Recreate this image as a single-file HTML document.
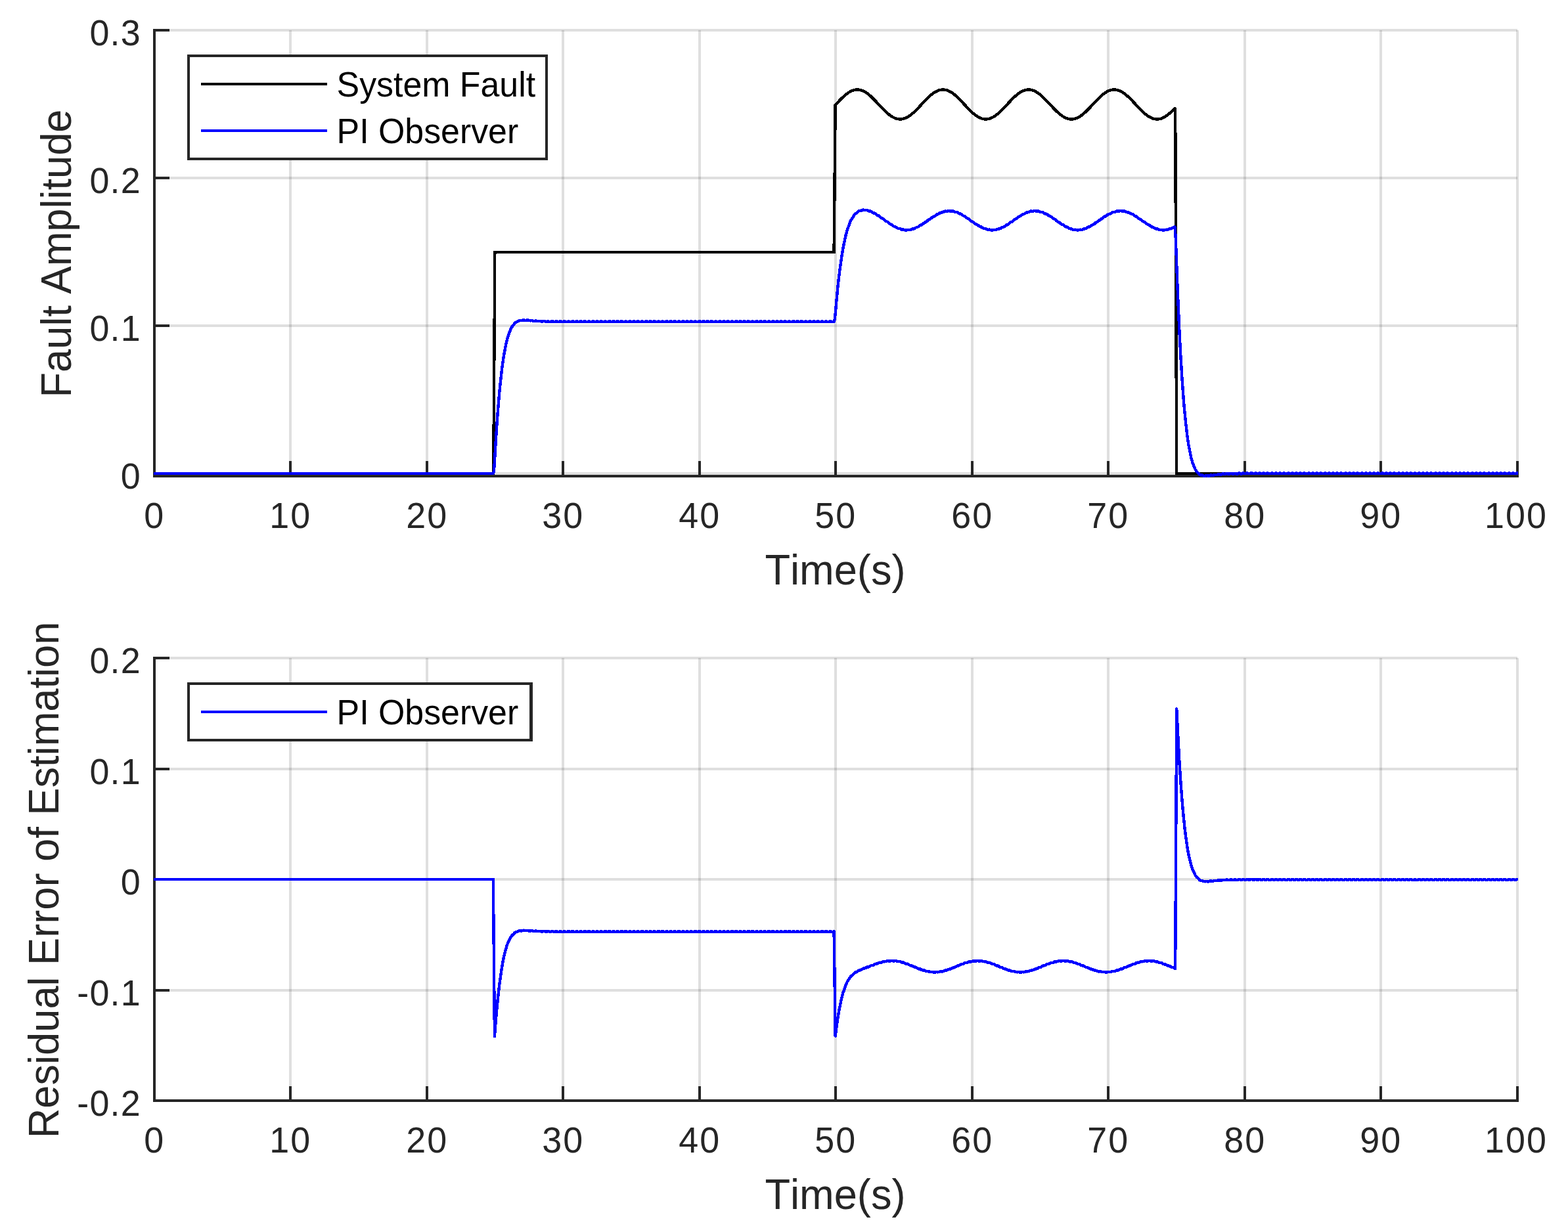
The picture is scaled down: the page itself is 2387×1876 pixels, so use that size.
<!DOCTYPE html>
<html lang="en">
<head>
<meta charset="utf-8">
<title>PI Observer fault estimation</title>
<style>
html,body{margin:0;padding:0;background:#fff;}
body{width:2387px;height:1876px;}
svg{display:block;}
text{font-family:"Liberation Sans", sans-serif;fill:#262626;font-kerning:none;}
.tk{font-size:55.5px;}
.tx{letter-spacing:2.12px;}
.ty{letter-spacing:1.3px;}
.lb{font-size:63.2px;}
.lg{font-size:51.85px;fill:#000;}
</style>
</head>
<body>
<svg width="2387" height="1876" viewBox="0 0 2387 1876" role="img" aria-label="Fault estimation by PI observer and residual error of estimation">
<rect x="0" y="0" width="2387" height="1876" fill="#fff"/>
<g id="top">
<g fill="#262626" fill-opacity="0.15" shape-rendering="crispEdges">
<rect x="440" y="46" width="4" height="656"/>
<rect x="648" y="46" width="4" height="656"/>
<rect x="855" y="46" width="4" height="656"/>
<rect x="1063" y="46" width="4" height="656"/>
<rect x="1270" y="46" width="4" height="656"/>
<rect x="1478" y="46" width="4" height="656"/>
<rect x="1685" y="46" width="4" height="656"/>
<rect x="1893" y="46" width="4" height="656"/>
<rect x="2100" y="46" width="4" height="656"/>
<rect x="2308" y="46" width="4" height="656"/>
<rect x="258" y="44" width="2052" height="4"/>
<rect x="258" y="269" width="2052" height="4"/>
<rect x="258" y="494" width="2052" height="4"/>
<rect x="258" y="719" width="2052" height="4"/>
</g>
<g fill="#262626" shape-rendering="crispEdges">
<rect x="233" y="44" width="4" height="683"/>
<rect x="233" y="723" width="2079" height="4"/>
<rect x="440" y="702" width="4" height="25"/>
<rect x="648" y="702" width="4" height="25"/>
<rect x="855" y="702" width="4" height="25"/>
<rect x="1063" y="702" width="4" height="25"/>
<rect x="1270" y="702" width="4" height="25"/>
<rect x="1478" y="702" width="4" height="25"/>
<rect x="1685" y="702" width="4" height="25"/>
<rect x="1893" y="702" width="4" height="25"/>
<rect x="2100" y="702" width="4" height="25"/>
<rect x="2308" y="702" width="4" height="25"/>
<rect x="233" y="44" width="25" height="4"/>
<rect x="233" y="269" width="25" height="4"/>
<rect x="233" y="494" width="25" height="4"/>
<rect x="233" y="719" width="25" height="4"/>
</g>
<g class="tk tx" text-anchor="middle">
<text transform="translate(235.3,804.2) scale(0.97,1)">0</text>
<text transform="translate(442.3,804.2) scale(0.97,1)">10</text>
<text transform="translate(650.3,804.2) scale(0.97,1)">20</text>
<text transform="translate(857.3,804.2) scale(0.97,1)">30</text>
<text transform="translate(1065.3,804.2) scale(0.97,1)">40</text>
<text transform="translate(1272.3,804.2) scale(0.97,1)">50</text>
<text transform="translate(1480.3,804.2) scale(0.97,1)">60</text>
<text transform="translate(1687.3,804.2) scale(0.97,1)">70</text>
<text transform="translate(1895.3,804.2) scale(0.97,1)">80</text>
<text transform="translate(2102.3,804.2) scale(0.97,1)">90</text>
<text transform="translate(2308,804.2) scale(0.97,1)">100</text>
</g>
<g class="tk ty" text-anchor="end">
<text transform="translate(215,69.1) scale(0.97,1)">0.3</text>
<text transform="translate(215,294.1) scale(0.97,1)">0.2</text>
<text transform="translate(215,519.1) scale(0.97,1)">0.1</text>
<text transform="translate(215,744.1) scale(0.97,1)">0</text>
</g>
<text class="lb" transform="translate(1271.5,890) scale(1,1.03)" text-anchor="middle">Time(s)</text>
<text class="lb" transform="translate(108.4,386) rotate(-90) scale(1,1.03)" text-anchor="middle">Fault Amplitude</text>
<g fill="none" stroke-linejoin="miter" stroke-linecap="butt" shape-rendering="crispEdges">
<path stroke="#000" stroke-width="4.4" stroke-miterlimit="2" d="M235.00,721.00 L751.26,721.00 L753.34,384.00 L1269.60,384.00 L1271.67,159.90 L1278.93,152.14 L1284.12,147.05 L1286.61,144.85 L1288.89,143.02 L1291.17,141.38 L1293.35,140.01 L1296.26,138.51 L1299.06,137.44 L1301.86,136.77 L1304.66,136.50 L1307.36,136.63 L1310.16,137.17 L1312.96,138.10 L1315.87,139.47 L1318.36,140.94 L1320.95,142.76 L1323.65,144.91 L1326.45,147.40 L1331.85,152.75 L1341.91,163.55 L1345.95,167.73 L1350.11,171.67 L1353.94,174.88 L1356.12,176.46 L1358.30,177.85 L1360.48,179.04 L1362.56,179.96 L1364.63,180.67 L1366.60,181.15 L1368.68,181.43 L1370.65,181.50 L1372.62,181.36 L1374.59,181.02 L1376.56,180.48 L1378.64,179.70 L1380.71,178.72 L1382.79,177.54 L1384.96,176.10 L1387.14,174.47 L1390.88,171.30 L1394.92,167.41 L1398.87,163.32 L1408.20,153.28 L1412.98,148.47 L1415.47,146.17 L1417.75,144.22 L1419.93,142.52 L1422.11,141.01 L1424.39,139.63 L1426.57,138.54 L1428.75,137.67 L1430.82,137.06 L1433.00,136.66 L1435.08,136.50 L1437.15,136.57 L1439.33,136.89 L1441.09,137.32 L1442.86,137.91 L1444.62,138.65 L1446.38,139.54 L1448.25,140.64 L1450.12,141.88 L1453.96,144.86 L1457.28,147.82 L1460.91,151.40 L1472.95,164.24 L1477.30,168.69 L1481.56,172.62 L1485.50,175.76 L1487.57,177.17 L1489.55,178.35 L1491.52,179.35 L1493.38,180.13 L1495.25,180.74 L1497.12,181.17 L1498.99,181.43 L1500.85,181.50 L1502.83,181.38 L1504.90,181.03 L1506.87,180.50 L1508.95,179.73 L1511.02,178.75 L1513.10,177.58 L1515.28,176.14 L1517.45,174.52 L1521.19,171.36 L1525.34,167.37 L1529.28,163.28 L1538.52,153.35 L1543.29,148.54 L1547.85,144.44 L1550.03,142.72 L1552.11,141.26 L1554.18,139.96 L1556.26,138.86 L1558.33,137.96 L1560.30,137.30 L1562.27,136.83 L1564.24,136.57 L1566.22,136.50 L1568.19,136.64 L1570.06,136.96 L1571.92,137.46 L1573.79,138.13 L1575.66,138.97 L1577.63,140.03 L1579.60,141.26 L1581.57,142.66 L1583.65,144.28 L1587.17,147.37 L1591.01,151.12 L1603.36,164.28 L1607.82,168.83 L1612.18,172.83 L1616.12,175.93 L1618.09,177.26 L1620.06,178.43 L1621.93,179.37 L1623.80,180.15 L1625.66,180.75 L1627.53,181.18 L1629.40,181.43 L1631.16,181.50 L1633.13,181.38 L1635.21,181.05 L1637.18,180.52 L1639.26,179.76 L1641.33,178.79 L1643.51,177.55 L1645.69,176.12 L1647.87,174.49 L1651.60,171.32 L1655.75,167.34 L1659.59,163.35 L1668.83,153.42 L1673.49,148.70 L1677.85,144.76 L1681.90,141.65 L1683.77,140.43 L1685.63,139.37 L1687.40,138.50 L1689.16,137.79 L1690.92,137.23 L1692.69,136.83 L1694.45,136.58 L1696.21,136.50 L1698.08,136.59 L1700.05,136.88 L1701.92,137.34 L1703.89,138.02 L1705.86,138.89 L1707.84,139.93 L1709.81,141.15 L1711.88,142.61 L1715.72,145.72 L1719.97,149.70 L1724.23,154.06 L1735.54,166.16 L1739.06,169.67 L1742.18,172.51 L1745.70,175.36 L1749.13,177.67 L1752.45,179.43 L1755.66,180.64 L1757.63,181.13 L1759.50,181.40 L1761.37,181.50 L1763.34,181.40 L1765.21,181.12 L1767.18,180.64 L1769.15,179.95 L1771.12,179.08 L1773.09,178.03 L1775.07,176.80 L1777.14,175.34 L1779.32,173.63 L1783.88,169.54 L1789.17,164.19 L1791.25,721.00 L2310.00,721.00"/>
<path stroke="#00f" stroke-width="4.4" stroke-linejoin="round" d="M234.00,721.00 L750.95,721.00 L751.26,720.41 L751.68,718.26 L752.40,710.88 L754.68,672.70 L756.24,648.80 L758.00,624.62 L759.98,600.77 L760.70,592.93 L762.98,571.53 L764.75,556.72 L766.10,547.15 L766.93,541.82 L769.52,528.04 L770.97,520.97 L773.15,512.75 L773.77,511.22 L775.33,506.71 L776.58,503.62 L777.20,501.73 L778.75,498.67 L779.38,497.60 L780.00,497.11 L781.35,495.22 L782.80,493.52 L783.42,492.39 L785.50,490.65 L785.60,490.58 L786.22,490.66 L787.57,489.89 L789.02,489.24 L789.65,488.51 L791.00,488.09 L791.83,487.89 L792.45,488.27 L795.25,487.91 L795.87,487.37 L798.05,487.31 L798.67,487.81 L801.48,487.90 L802.10,487.44 L804.28,487.58 L804.90,488.13 L807.70,488.36 L808.32,487.91 L810.50,488.10 L811.12,488.65 L813.93,488.88 L814.55,488.43 L816.73,488.59 L817.35,489.14 L818.08,489.19 L820.15,489.32 L820.77,488.85 L822.95,488.97 L823.57,489.50 L826.38,489.63 L827.00,489.15 L829.18,489.23 L829.80,489.75 L832.60,489.83 L833.22,489.35 L835.40,489.39 L836.02,489.91 L838.83,489.95 L839.45,489.46 L841.63,489.49 L842.25,489.99 L845.05,490.02 L845.67,489.52 L847.85,489.53 L848.47,490.04 L851.27,490.05 L851.90,489.55 L854.08,489.56 L854.70,490.06 L857.50,490.06 L858.12,489.56 L860.30,489.57 L860.92,490.07 L863.73,490.07 L864.35,489.57 L866.53,489.57 L867.15,490.07 L869.95,490.07 L870.57,489.57 L872.75,489.57 L873.37,490.07 L876.18,490.07 L876.80,489.57 L878.98,489.57 L879.60,490.07 L882.40,490.07 L883.02,489.57 L885.20,489.57 L885.82,490.07 L888.62,490.06 L889.25,489.56 L891.43,489.56 L892.05,490.06 L894.85,490.06 L895.47,489.56 L897.65,489.56 L898.27,490.06 L901.08,490.06 L901.70,489.56 L903.88,489.56 L904.50,490.06 L907.30,490.06 L907.92,489.56 L910.10,489.56 L910.72,490.06 L913.52,490.06 L914.15,489.56 L916.33,489.56 L916.95,490.06 L919.75,490.06 L920.37,489.56 L922.55,489.56 L923.17,490.06 L925.98,490.06 L926.60,489.56 L928.78,489.56 L929.40,490.06 L932.20,490.06 L932.82,489.56 L935.00,489.56 L935.62,490.06 L938.42,490.06 L939.05,489.56 L941.23,489.56 L941.85,490.06 L944.65,490.06 L945.27,489.56 L947.45,489.56 L948.07,490.06 L950.88,490.06 L951.50,489.56 L953.68,489.56 L954.30,490.06 L957.10,490.06 L957.72,489.56 L959.90,489.56 L960.52,490.06 L963.33,490.06 L963.95,489.56 L966.13,489.56 L966.75,490.06 L969.55,490.06 L970.17,489.56 L972.35,489.56 L972.97,490.06 L975.77,490.06 L976.40,489.56 L978.58,489.56 L979.20,490.06 L982.00,490.06 L982.62,489.56 L984.80,489.56 L985.42,490.06 L988.23,490.06 L988.85,489.56 L991.03,489.56 L991.65,490.06 L994.45,490.06 L995.07,489.56 L997.25,489.56 L997.87,490.06 L1000.67,490.06 L1001.30,489.56 L1003.48,489.56 L1004.10,490.06 L1006.90,490.06 L1007.52,489.56 L1009.70,489.56 L1010.32,490.06 L1013.12,490.06 L1013.75,489.56 L1015.93,489.56 L1016.55,490.06 L1019.35,490.06 L1019.97,489.56 L1022.15,489.56 L1022.77,490.06 L1025.58,490.06 L1026.20,489.56 L1028.38,489.56 L1029.00,490.06 L1031.80,490.06 L1032.42,489.56 L1034.60,489.56 L1035.22,490.06 L1038.03,490.06 L1038.65,489.56 L1040.83,489.56 L1041.45,490.06 L1044.25,490.06 L1044.87,489.56 L1047.05,489.56 L1047.67,490.06 L1050.48,490.06 L1051.10,489.56 L1053.28,489.56 L1053.90,490.06 L1056.70,490.06 L1057.32,489.56 L1059.50,489.56 L1060.12,490.06 L1062.92,490.06 L1063.55,489.56 L1065.73,489.56 L1066.35,490.06 L1069.15,490.06 L1069.77,489.56 L1071.95,489.56 L1072.57,490.06 L1075.38,490.06 L1076.00,489.56 L1078.18,489.56 L1078.80,490.06 L1081.60,490.06 L1082.22,489.56 L1084.40,489.56 L1085.02,490.06 L1087.83,490.06 L1088.45,489.56 L1090.63,489.56 L1091.25,490.06 L1094.05,490.06 L1094.67,489.56 L1096.85,489.56 L1097.47,490.06 L1100.28,490.06 L1100.90,489.56 L1103.08,489.56 L1103.70,490.06 L1106.50,490.06 L1107.12,489.56 L1109.30,489.56 L1109.92,490.06 L1112.73,490.06 L1113.35,489.56 L1115.53,489.56 L1116.15,490.06 L1118.95,490.06 L1119.57,489.56 L1121.75,489.56 L1122.37,490.06 L1125.17,490.06 L1125.80,489.56 L1127.98,489.56 L1128.60,490.06 L1131.40,490.06 L1132.02,489.56 L1134.20,489.56 L1134.82,490.06 L1137.62,490.06 L1138.25,489.56 L1140.43,489.56 L1141.05,490.06 L1143.85,490.06 L1144.47,489.56 L1146.65,489.56 L1147.27,490.06 L1150.08,490.06 L1150.70,489.56 L1152.88,489.56 L1153.50,490.06 L1156.30,490.06 L1156.92,489.56 L1159.10,489.56 L1159.72,490.06 L1162.53,490.06 L1163.15,489.56 L1165.33,489.56 L1165.95,490.06 L1168.75,490.06 L1169.37,489.56 L1171.55,489.56 L1172.17,490.06 L1174.98,490.06 L1175.60,489.56 L1177.78,489.56 L1178.40,490.06 L1181.20,490.06 L1181.82,489.56 L1184.00,489.56 L1184.62,490.06 L1187.42,490.06 L1188.05,489.56 L1190.23,489.56 L1190.85,490.06 L1193.65,490.06 L1194.27,489.56 L1196.45,489.56 L1197.07,490.06 L1199.88,490.06 L1200.50,489.56 L1202.68,489.56 L1203.30,490.06 L1206.10,490.06 L1206.72,489.56 L1208.90,489.56 L1209.52,490.06 L1212.33,490.06 L1212.95,489.56 L1215.13,489.56 L1215.75,490.06 L1218.55,490.06 L1219.17,489.56 L1221.35,489.56 L1221.97,490.06 L1224.78,490.06 L1225.40,489.56 L1227.58,489.56 L1228.20,490.06 L1231.00,490.06 L1231.62,489.56 L1233.80,489.56 L1234.42,490.06 L1237.23,490.06 L1237.85,489.56 L1240.03,489.56 L1240.65,490.06 L1243.45,490.06 L1244.07,489.56 L1246.25,489.56 L1246.87,490.06 L1249.67,490.06 L1250.30,489.56 L1252.48,489.56 L1253.10,490.06 L1255.90,490.06 L1256.52,489.56 L1258.70,489.56 L1259.32,490.06 L1262.12,490.06 L1262.75,489.56 L1264.93,489.56 L1265.55,490.06 L1268.35,490.06 L1268.97,489.56 L1269.70,489.56 L1270.01,489.17 L1270.42,487.74 L1270.94,484.55 L1271.67,477.94 L1273.23,460.17 L1275.20,439.28 L1276.34,428.57 L1277.38,419.49 L1278.83,408.30 L1281.42,389.63 L1283.60,376.80 L1287.65,357.95 L1288.58,354.40 L1289.83,350.07 L1290.45,348.56 L1293.98,338.53 L1296.05,334.17 L1296.67,333.52 L1298.02,331.25 L1299.48,329.11 L1300.10,327.79 L1302.28,325.31 L1302.90,325.20 L1304.25,324.03 L1305.70,322.97 L1306.32,322.08 L1306.84,321.77 L1308.50,320.95 L1309.12,321.20 L1310.47,320.75 L1311.92,320.40 L1312.55,319.79 L1314.73,319.58 L1315.35,320.06 L1318.15,320.24 L1318.77,319.83 L1320.64,320.19 L1320.95,320.26 L1321.57,320.92 L1324.38,321.80 L1325.00,321.54 L1327.18,322.44 L1327.80,323.23 L1330.60,324.64 L1331.22,324.48 L1333.40,325.73 L1334.02,326.60 L1336.83,328.37 L1337.45,328.28 L1339.63,329.75 L1340.25,330.69 L1343.05,332.66 L1343.67,332.61 L1345.85,334.17 L1346.47,335.12 L1349.28,337.14 L1349.90,337.08 L1352.08,338.62 L1352.70,339.55 L1355.50,341.44 L1356.12,341.34 L1358.30,342.71 L1358.92,343.59 L1361.52,345.08 L1361.73,345.19 L1362.35,345.03 L1364.53,346.12 L1365.15,346.91 L1367.95,348.10 L1368.57,347.83 L1370.75,348.55 L1371.37,349.24 L1374.17,349.90 L1374.80,349.51 L1376.98,349.80 L1377.60,350.36 L1378.22,350.40 L1380.40,350.44 L1381.02,349.93 L1383.20,349.76 L1383.82,350.19 L1385.38,349.94 L1386.62,349.69 L1387.25,349.05 L1389.43,348.44 L1390.05,348.74 L1392.85,347.71 L1393.47,346.95 L1395.65,345.96 L1396.27,346.15 L1399.08,344.67 L1399.70,343.82 L1401.88,342.53 L1402.50,342.65 L1403.43,342.07 L1405.30,340.86 L1405.92,339.95 L1408.10,338.48 L1408.72,338.55 L1411.53,336.61 L1412.15,335.67 L1414.33,334.15 L1414.95,334.22 L1417.75,332.29 L1418.37,331.37 L1420.55,329.94 L1421.17,330.04 L1423.98,328.31 L1424.60,327.44 L1426.78,326.21 L1427.40,326.38 L1430.20,325.00 L1430.82,324.22 L1433.00,323.32 L1433.62,323.58 L1436.42,322.67 L1437.05,322.00 L1439.23,321.50 L1439.85,321.89 L1442.65,321.53 L1443.27,320.99 L1444.73,320.93 L1445.45,320.93 L1446.07,321.45 L1448.88,321.67 L1449.50,321.26 L1451.68,321.66 L1452.30,322.30 L1455.10,323.09 L1455.72,322.80 L1457.90,323.62 L1458.52,324.37 L1461.33,325.66 L1461.95,325.47 L1464.13,326.63 L1464.75,327.48 L1467.55,329.14 L1468.17,329.03 L1470.35,330.43 L1470.97,331.34 L1473.78,333.23 L1474.40,333.16 L1476.58,334.67 L1477.20,335.61 L1480.00,337.56 L1480.62,337.50 L1482.80,338.99 L1483.42,339.91 L1486.23,341.75 L1486.85,341.65 L1489.03,342.99 L1489.65,343.86 L1492.04,345.20 L1492.45,345.42 L1493.07,345.25 L1495.25,346.31 L1495.87,347.09 L1498.67,348.24 L1499.30,347.97 L1501.48,348.66 L1502.10,349.34 L1504.90,349.96 L1505.52,349.57 L1507.70,349.83 L1508.32,350.38 L1511.12,350.43 L1511.75,349.91 L1513.93,349.72 L1514.55,350.14 L1515.79,349.93 L1517.35,349.61 L1517.97,348.95 L1520.15,348.33 L1520.77,348.62 L1523.58,347.56 L1524.20,346.79 L1526.38,345.79 L1527.00,345.98 L1529.80,344.47 L1530.42,343.62 L1532.60,342.32 L1533.22,342.43 L1533.85,342.04 L1536.03,340.63 L1536.65,339.71 L1538.83,338.24 L1539.45,338.31 L1542.25,336.36 L1542.87,335.43 L1545.05,333.91 L1545.67,333.97 L1548.47,332.06 L1549.10,331.14 L1551.28,329.71 L1551.90,329.81 L1554.70,328.10 L1555.32,327.24 L1557.50,326.03 L1558.12,326.20 L1560.92,324.84 L1561.55,324.07 L1563.73,323.18 L1564.35,323.46 L1567.15,322.58 L1567.77,321.91 L1569.95,321.44 L1570.57,321.83 L1573.38,321.50 L1574.00,320.97 L1574.93,320.94 L1576.18,320.94 L1576.80,321.46 L1579.60,321.72 L1580.22,321.31 L1582.40,321.74 L1583.02,322.39 L1585.83,323.21 L1586.45,322.92 L1588.63,323.76 L1589.25,324.52 L1592.05,325.83 L1592.67,325.65 L1594.85,326.82 L1595.47,327.68 L1598.28,329.36 L1598.90,329.25 L1601.08,330.66 L1601.70,331.57 L1604.50,333.47 L1605.12,333.40 L1607.30,334.92 L1607.92,335.85 L1610.72,337.81 L1611.35,337.74 L1613.53,339.23 L1614.15,340.14 L1616.95,341.97 L1617.57,341.87 L1619.75,343.20 L1620.37,344.06 L1621.00,344.42 L1623.17,345.60 L1623.80,345.42 L1625.98,346.47 L1626.60,347.25 L1628.57,348.06 L1629.40,348.37 L1630.02,348.09 L1632.20,348.76 L1632.82,349.43 L1635.62,350.02 L1636.25,349.62 L1638.43,349.86 L1639.15,350.41 L1641.85,350.42 L1642.47,349.89 L1644.65,349.67 L1645.27,350.08 L1648.08,349.52 L1648.70,348.86 L1650.88,348.21 L1651.50,348.50 L1653.99,347.54 L1654.30,347.41 L1654.92,346.64 L1657.10,345.61 L1657.72,345.80 L1660.53,344.28 L1661.15,343.42 L1663.33,342.10 L1663.95,342.21 L1664.16,342.08 L1666.75,340.40 L1667.37,339.48 L1669.55,338.00 L1670.17,338.07 L1672.97,336.12 L1673.60,335.18 L1675.78,333.66 L1676.40,333.73 L1679.20,331.82 L1679.82,330.91 L1682.00,329.49 L1682.62,329.59 L1685.42,327.89 L1686.05,327.04 L1688.23,325.84 L1688.85,326.02 L1691.65,324.69 L1692.27,323.92 L1694.45,323.06 L1695.07,323.33 L1697.88,322.48 L1698.50,321.83 L1700.68,321.37 L1701.30,321.77 L1704.10,321.48 L1704.72,320.95 L1704.93,320.94 L1706.90,320.95 L1707.52,321.48 L1710.33,321.77 L1710.95,321.37 L1713.13,321.82 L1713.75,322.48 L1716.55,323.33 L1717.17,323.05 L1719.35,323.90 L1719.97,324.67 L1722.78,326.01 L1723.40,325.83 L1725.58,327.02 L1726.20,327.88 L1729.00,329.58 L1729.62,329.47 L1731.80,330.89 L1732.42,331.80 L1735.22,333.71 L1735.85,333.64 L1738.03,335.16 L1738.65,336.10 L1741.45,338.05 L1742.07,337.98 L1744.25,339.46 L1744.87,340.38 L1746.85,341.67 L1747.67,342.20 L1748.30,342.09 L1750.48,343.40 L1751.10,344.26 L1753.90,345.78 L1754.52,345.60 L1756.70,346.63 L1757.32,347.40 L1757.53,347.49 L1760.12,348.49 L1760.75,348.20 L1762.93,348.86 L1763.55,349.52 L1766.35,350.08 L1766.97,349.67 L1769.15,349.89 L1769.77,350.42 L1772.58,350.40 L1773.20,349.86 L1775.38,349.63 L1776.00,350.03 L1778.80,349.44 L1779.42,348.77 L1781.60,348.10 L1782.22,348.38 L1782.43,348.30 L1785.03,347.26 L1785.65,346.48 L1787.83,345.44 L1788.24,345.56 L1788.45,346.11 L1788.66,347.14 L1788.97,349.87 L1789.69,361.70 L1792.18,428.56 L1793.74,466.85 L1795.50,506.07 L1797.47,543.83 L1799.34,574.20 L1801.21,601.24 L1803.18,625.04 L1805.05,643.57 L1807.12,661.67 L1808.27,669.95 L1809.51,677.97 L1811.38,687.72 L1813.35,697.03 L1814.70,702.02 L1816.15,706.59 L1816.77,707.82 L1817.81,710.41 L1818.95,712.89 L1819.57,714.60 L1820.82,716.72 L1822.38,718.90 L1823.00,719.14 L1824.35,720.51 L1824.45,720.48 L1825.18,721.09 L1825.80,722.22 L1827.15,723.07 L1828.60,723.76 L1829.22,723.33 L1831.40,723.92 L1832.02,724.68 L1832.85,724.79 L1834.83,724.92 L1835.45,724.27 L1837.63,724.21 L1838.25,724.83 L1841.05,724.56 L1841.67,723.83 L1843.85,723.55 L1844.47,724.12 L1847.28,723.73 L1847.90,722.99 L1850.08,722.69 L1850.70,723.27 L1853.50,722.92 L1854.12,722.19 L1856.30,721.95 L1856.92,722.55 L1859.72,722.29 L1860.35,721.58 L1862.53,721.41 L1863.15,722.03 L1865.95,721.86 L1866.57,721.16 L1868.75,721.06 L1869.37,721.69 L1872.17,721.58 L1872.80,720.90 L1874.98,720.84 L1875.60,721.48 L1878.40,721.42 L1879.02,720.75 L1881.20,720.72 L1881.82,721.37 L1884.62,721.34 L1885.25,720.67 L1887.43,720.66 L1888.05,721.31 L1890.85,721.30 L1891.47,720.64 L1893.65,720.63 L1894.27,721.29 L1897.08,721.28 L1897.70,720.62 L1898.32,720.62 L1899.88,720.62 L1900.50,721.28 L1903.30,721.28 L1903.92,720.62 L1904.23,720.62 L1906.10,720.62 L1906.72,721.28 L1909.53,721.28 L1910.15,720.62 L1912.33,720.62 L1912.95,721.28 L1915.75,721.28 L1916.37,720.62 L1918.55,720.62 L1919.17,721.28 L1921.97,721.28 L1922.60,720.63 L1924.78,720.63 L1925.40,721.29 L1928.20,721.29 L1928.82,720.63 L1931.00,720.63 L1931.62,721.29 L1934.42,721.29 L1935.05,720.63 L1937.23,720.63 L1937.85,721.29 L1940.65,721.29 L1941.27,720.63 L1943.45,720.63 L1944.07,721.29 L1946.88,721.29 L1947.50,720.63 L1949.68,720.63 L1950.30,721.29 L1953.10,721.29 L1953.72,720.63 L1955.90,720.63 L1956.52,721.29 L1959.33,721.29 L1959.95,720.63 L1962.13,720.63 L1962.75,721.29 L1965.55,721.29 L1966.17,720.63 L1968.35,720.63 L1968.97,721.29 L1971.78,721.29 L1972.40,720.63 L1974.58,720.63 L1975.20,721.29 L1978.00,721.29 L1978.62,720.63 L1980.80,720.63 L1981.42,721.29 L1984.22,721.29 L1984.85,720.63 L1987.03,720.63 L1987.65,721.29 L1990.45,721.29 L1991.07,720.63 L1993.25,720.63 L1993.87,721.29 L1996.67,721.29 L1997.30,720.63 L1999.48,720.63 L2000.10,721.29 L2002.90,721.29 L2003.52,720.63 L2005.70,720.63 L2006.32,721.29 L2009.12,721.29 L2009.75,720.63 L2011.93,720.63 L2012.55,721.29 L2015.35,721.29 L2015.97,720.63 L2018.15,720.63 L2018.77,721.29 L2021.58,721.29 L2022.20,720.63 L2024.38,720.63 L2025.00,721.29 L2027.80,721.29 L2028.42,720.63 L2030.60,720.63 L2031.22,721.29 L2034.03,721.29 L2034.65,720.63 L2036.83,720.63 L2037.45,721.29 L2040.25,721.29 L2040.87,720.63 L2043.05,720.63 L2043.67,721.29 L2046.47,721.29 L2047.10,720.63 L2049.28,720.63 L2049.90,721.29 L2052.70,721.29 L2053.32,720.63 L2055.50,720.63 L2056.12,721.29 L2058.93,721.29 L2059.55,720.63 L2061.73,720.63 L2062.35,721.29 L2065.15,721.29 L2065.77,720.63 L2067.95,720.63 L2068.57,721.29 L2071.38,721.29 L2072.00,720.63 L2074.18,720.63 L2074.80,721.29 L2077.60,721.29 L2078.22,720.63 L2080.40,720.63 L2081.02,721.29 L2083.83,721.29 L2084.45,720.63 L2086.63,720.63 L2087.25,721.29 L2090.05,721.29 L2090.67,720.63 L2092.85,720.63 L2093.47,721.29 L2096.28,721.29 L2096.90,720.63 L2099.08,720.63 L2099.70,721.29 L2102.50,721.29 L2103.12,720.63 L2105.30,720.63 L2105.92,721.29 L2108.72,721.29 L2109.35,720.63 L2111.53,720.63 L2112.15,721.29 L2114.95,721.29 L2115.57,720.63 L2117.75,720.63 L2118.37,721.29 L2121.18,721.29 L2121.80,720.63 L2123.98,720.63 L2124.60,721.29 L2127.40,721.29 L2128.02,720.63 L2130.20,720.63 L2130.82,721.29 L2133.62,721.29 L2134.25,720.63 L2136.43,720.63 L2137.05,721.29 L2139.85,721.29 L2140.47,720.63 L2142.65,720.63 L2143.27,721.29 L2146.08,721.29 L2146.70,720.63 L2148.88,720.63 L2149.50,721.29 L2152.30,721.29 L2152.92,720.63 L2155.10,720.63 L2155.72,721.29 L2158.53,721.29 L2159.15,720.63 L2161.33,720.63 L2161.95,721.29 L2164.75,721.29 L2165.37,720.63 L2167.55,720.63 L2168.17,721.29 L2170.97,721.29 L2171.60,720.63 L2173.78,720.63 L2174.40,721.29 L2177.20,721.29 L2177.82,720.63 L2180.00,720.63 L2180.62,721.29 L2183.43,721.29 L2184.05,720.63 L2186.23,720.63 L2186.85,721.29 L2189.65,721.29 L2190.27,720.63 L2192.45,720.63 L2193.07,721.29 L2195.88,721.29 L2196.50,720.63 L2198.68,720.63 L2199.30,721.29 L2202.10,721.29 L2202.72,720.63 L2204.90,720.63 L2205.52,721.29 L2208.33,721.29 L2208.95,720.63 L2211.13,720.63 L2211.75,721.29 L2214.55,721.29 L2215.17,720.63 L2217.35,720.63 L2217.97,721.29 L2220.78,721.29 L2221.40,720.63 L2223.58,720.63 L2224.20,721.29 L2227.00,721.29 L2227.62,720.63 L2229.80,720.63 L2230.42,721.29 L2233.22,721.29 L2233.85,720.63 L2236.03,720.63 L2236.65,721.29 L2239.45,721.29 L2240.07,720.63 L2242.25,720.63 L2242.87,721.29 L2245.68,721.29 L2246.30,720.63 L2248.48,720.63 L2249.10,721.29 L2251.90,721.29 L2252.52,720.63 L2254.70,720.63 L2255.32,721.29 L2258.12,721.29 L2258.75,720.63 L2260.93,720.63 L2261.55,721.29 L2264.35,721.29 L2264.97,720.63 L2267.15,720.63 L2267.77,721.29 L2270.58,721.29 L2271.20,720.63 L2273.38,720.63 L2274.00,721.29 L2276.80,721.29 L2277.42,720.63 L2279.60,720.63 L2280.22,721.29 L2283.03,721.29 L2283.65,720.63 L2285.83,720.63 L2286.45,721.29 L2289.25,721.29 L2289.87,720.63 L2292.05,720.63 L2292.67,721.29 L2295.47,721.29 L2296.10,720.63 L2298.28,720.63 L2298.90,721.29 L2301.70,721.29 L2302.32,720.63 L2304.50,720.63 L2305.12,721.29 L2307.93,721.29 L2308.55,720.63 L2311.00,720.63"/>
</g>
<rect x="287" y="85" width="545" height="157" fill="#fff" stroke="#262626" stroke-width="4" shape-rendering="crispEdges"/>
<rect x="306" y="126" width="192" height="4" fill="#000" shape-rendering="crispEdges"/>
<rect x="306" y="197" width="192" height="4" fill="#00f" shape-rendering="crispEdges"/>
<text class="lg" transform="translate(512.6,147) scale(1,1.03)">System Fault</text>
<text class="lg" transform="translate(512.6,218.2) scale(1,1.03)">PI Observer</text>
</g>
<g id="bot">
<g fill="#262626" fill-opacity="0.15" shape-rendering="crispEdges">
<rect x="440" y="1002" width="4" height="652"/>
<rect x="648" y="1002" width="4" height="652"/>
<rect x="855" y="1002" width="4" height="652"/>
<rect x="1063" y="1002" width="4" height="652"/>
<rect x="1270" y="1002" width="4" height="652"/>
<rect x="1478" y="1002" width="4" height="652"/>
<rect x="1685" y="1002" width="4" height="652"/>
<rect x="1893" y="1002" width="4" height="652"/>
<rect x="2100" y="1002" width="4" height="652"/>
<rect x="2308" y="1002" width="4" height="652"/>
<rect x="258" y="1000" width="2052" height="4"/>
<rect x="258" y="1169" width="2052" height="4"/>
<rect x="258" y="1337" width="2052" height="4"/>
<rect x="258" y="1506" width="2052" height="4"/>
</g>
<g fill="#262626" shape-rendering="crispEdges">
<rect x="233" y="1000" width="4" height="678"/>
<rect x="233" y="1674" width="2079" height="4"/>
<rect x="440" y="1654" width="4" height="24"/>
<rect x="648" y="1654" width="4" height="24"/>
<rect x="855" y="1654" width="4" height="24"/>
<rect x="1063" y="1654" width="4" height="24"/>
<rect x="1270" y="1654" width="4" height="24"/>
<rect x="1478" y="1654" width="4" height="24"/>
<rect x="1685" y="1654" width="4" height="24"/>
<rect x="1893" y="1654" width="4" height="24"/>
<rect x="2100" y="1654" width="4" height="24"/>
<rect x="2308" y="1654" width="4" height="24"/>
<rect x="233" y="1000" width="25" height="4"/>
<rect x="233" y="1169" width="25" height="4"/>
<rect x="233" y="1337" width="25" height="4"/>
<rect x="233" y="1506" width="25" height="4"/>
</g>
<g class="tk tx" text-anchor="middle">
<text transform="translate(235.3,1755.2) scale(0.97,1)">0</text>
<text transform="translate(442.3,1755.2) scale(0.97,1)">10</text>
<text transform="translate(650.3,1755.2) scale(0.97,1)">20</text>
<text transform="translate(857.3,1755.2) scale(0.97,1)">30</text>
<text transform="translate(1065.3,1755.2) scale(0.97,1)">40</text>
<text transform="translate(1272.3,1755.2) scale(0.97,1)">50</text>
<text transform="translate(1480.3,1755.2) scale(0.97,1)">60</text>
<text transform="translate(1687.3,1755.2) scale(0.97,1)">70</text>
<text transform="translate(1895.3,1755.2) scale(0.97,1)">80</text>
<text transform="translate(2102.3,1755.2) scale(0.97,1)">90</text>
<text transform="translate(2308,1755.2) scale(0.97,1)">100</text>
</g>
<g class="tk ty" text-anchor="end">
<text transform="translate(215,1025.3) scale(0.97,1)">0.2</text>
<text transform="translate(215,1194.3) scale(0.97,1)">0.1</text>
<text transform="translate(215,1362.3) scale(0.97,1)">0</text>
<text transform="translate(215,1531.3) scale(0.97,1)">-0.1</text>
<text transform="translate(215,1699.3) scale(0.97,1)">-0.2</text>
</g>
<text class="lb" transform="translate(1271.5,1841) scale(1,1.03)" text-anchor="middle">Time(s)</text>
<text class="lb" transform="translate(89.2,1340) rotate(-90) scale(1,1.03)" text-anchor="middle">Residual Error of Estimation</text>
<g fill="none" stroke-linejoin="miter" stroke-linecap="butt" shape-rendering="crispEdges">
<path stroke="#00f" stroke-width="4.4" stroke-linejoin="round" d="M234.00,1339.00 L750.85,1339.00 L752.92,1578.17 L754.58,1556.84 L756.34,1536.55 L758.00,1519.57 L759.98,1501.65 L760.70,1495.78 L763.29,1477.87 L764.75,1468.66 L766.93,1457.50 L769.21,1448.46 L770.97,1441.89 L771.70,1439.68 L773.15,1435.73 L773.77,1434.71 L775.12,1431.75 L776.58,1429.02 L777.20,1427.48 L779.38,1424.39 L780.00,1424.15 L781.35,1422.73 L782.80,1421.45 L783.42,1420.48 L785.60,1419.13 L786.22,1419.31 L789.02,1418.25 L789.65,1417.57 L791.83,1417.12 L792.45,1417.52 L795.25,1417.25 L795.87,1416.72 L798.05,1416.68 L798.67,1417.18 L801.48,1417.25 L802.10,1416.77 L803.65,1416.85 L804.28,1416.88 L804.90,1417.42 L807.70,1417.59 L808.32,1417.13 L810.50,1417.27 L811.12,1417.81 L813.93,1417.98 L814.55,1417.52 L816.73,1417.64 L817.35,1418.17 L818.08,1418.21 L820.15,1418.31 L820.77,1417.84 L822.95,1417.92 L823.57,1418.45 L826.38,1418.54 L827.00,1418.06 L829.18,1418.12 L829.80,1418.63 L832.60,1418.69 L833.22,1418.20 L835.40,1418.24 L836.02,1418.75 L838.83,1418.78 L839.45,1418.29 L841.63,1418.31 L842.25,1418.81 L845.05,1418.83 L845.67,1418.34 L847.85,1418.35 L848.47,1418.85 L851.27,1418.86 L851.90,1418.36 L854.08,1418.36 L854.70,1418.86 L857.50,1418.87 L858.12,1418.37 L860.30,1418.37 L860.92,1418.87 L863.73,1418.87 L864.35,1418.37 L866.53,1418.37 L867.15,1418.87 L869.95,1418.87 L870.57,1418.37 L872.75,1418.37 L873.37,1418.87 L876.18,1418.87 L876.80,1418.37 L878.98,1418.37 L879.60,1418.87 L882.40,1418.87 L883.02,1418.37 L885.20,1418.37 L885.82,1418.87 L888.62,1418.87 L889.25,1418.37 L891.43,1418.37 L892.05,1418.87 L894.85,1418.87 L895.47,1418.37 L897.65,1418.37 L898.27,1418.87 L901.08,1418.87 L901.70,1418.37 L903.88,1418.37 L904.50,1418.87 L907.30,1418.87 L907.92,1418.37 L910.10,1418.37 L910.72,1418.87 L913.52,1418.87 L914.15,1418.37 L916.33,1418.37 L916.95,1418.87 L919.75,1418.87 L920.37,1418.37 L922.55,1418.37 L923.17,1418.87 L925.98,1418.87 L926.60,1418.37 L928.78,1418.37 L929.40,1418.87 L932.20,1418.87 L932.82,1418.37 L935.00,1418.37 L935.62,1418.87 L938.42,1418.87 L939.05,1418.37 L941.23,1418.37 L941.85,1418.87 L944.65,1418.87 L945.27,1418.37 L947.45,1418.37 L948.07,1418.87 L950.88,1418.87 L951.50,1418.37 L953.68,1418.37 L954.30,1418.87 L957.10,1418.87 L957.72,1418.37 L959.90,1418.37 L960.52,1418.87 L963.33,1418.87 L963.95,1418.37 L966.13,1418.37 L966.75,1418.87 L969.55,1418.87 L970.17,1418.37 L972.35,1418.37 L972.97,1418.87 L975.77,1418.87 L976.40,1418.37 L978.58,1418.37 L979.20,1418.87 L982.00,1418.87 L982.62,1418.37 L984.80,1418.37 L985.42,1418.87 L988.23,1418.87 L988.85,1418.37 L991.03,1418.37 L991.65,1418.87 L994.45,1418.87 L995.07,1418.37 L997.25,1418.37 L997.87,1418.87 L1000.67,1418.87 L1001.30,1418.37 L1003.48,1418.37 L1004.10,1418.87 L1006.90,1418.87 L1007.52,1418.37 L1009.70,1418.37 L1010.32,1418.87 L1013.12,1418.87 L1013.75,1418.37 L1015.93,1418.37 L1016.55,1418.87 L1019.35,1418.87 L1019.97,1418.37 L1022.15,1418.37 L1022.77,1418.87 L1025.58,1418.87 L1026.20,1418.37 L1028.38,1418.37 L1029.00,1418.87 L1031.80,1418.87 L1032.42,1418.37 L1034.60,1418.37 L1035.22,1418.87 L1038.03,1418.87 L1038.65,1418.37 L1040.83,1418.37 L1041.45,1418.87 L1044.25,1418.87 L1044.87,1418.37 L1047.05,1418.37 L1047.67,1418.87 L1050.48,1418.87 L1051.10,1418.37 L1053.28,1418.37 L1053.90,1418.87 L1056.70,1418.87 L1057.32,1418.37 L1059.50,1418.37 L1060.12,1418.87 L1062.92,1418.87 L1063.55,1418.37 L1065.73,1418.37 L1066.35,1418.87 L1069.15,1418.87 L1069.77,1418.37 L1071.95,1418.37 L1072.57,1418.87 L1075.38,1418.87 L1076.00,1418.37 L1078.18,1418.37 L1078.80,1418.87 L1081.60,1418.87 L1082.22,1418.37 L1084.40,1418.37 L1085.02,1418.87 L1087.83,1418.87 L1088.45,1418.37 L1090.63,1418.37 L1091.25,1418.87 L1094.05,1418.87 L1094.67,1418.37 L1096.85,1418.37 L1097.47,1418.87 L1100.28,1418.87 L1100.90,1418.37 L1103.08,1418.37 L1103.70,1418.87 L1106.50,1418.87 L1107.12,1418.37 L1109.30,1418.37 L1109.92,1418.87 L1112.73,1418.87 L1113.35,1418.37 L1115.53,1418.37 L1116.15,1418.87 L1118.95,1418.87 L1119.57,1418.37 L1121.75,1418.37 L1122.37,1418.87 L1125.17,1418.87 L1125.80,1418.37 L1127.98,1418.37 L1128.60,1418.87 L1131.40,1418.87 L1132.02,1418.37 L1134.20,1418.37 L1134.82,1418.87 L1137.62,1418.87 L1138.25,1418.37 L1140.43,1418.37 L1141.05,1418.87 L1143.85,1418.87 L1144.47,1418.37 L1146.65,1418.37 L1147.27,1418.87 L1150.08,1418.87 L1150.70,1418.37 L1152.88,1418.37 L1153.50,1418.87 L1156.30,1418.87 L1156.92,1418.37 L1159.10,1418.37 L1159.72,1418.87 L1162.53,1418.87 L1163.15,1418.37 L1165.33,1418.37 L1165.95,1418.87 L1168.75,1418.87 L1169.37,1418.37 L1171.55,1418.37 L1172.17,1418.87 L1174.98,1418.87 L1175.60,1418.37 L1177.78,1418.37 L1178.40,1418.87 L1181.20,1418.87 L1181.82,1418.37 L1184.00,1418.37 L1184.62,1418.87 L1187.42,1418.87 L1188.05,1418.37 L1190.23,1418.37 L1190.85,1418.87 L1193.65,1418.87 L1194.27,1418.37 L1196.45,1418.37 L1197.07,1418.87 L1199.88,1418.87 L1200.50,1418.37 L1202.68,1418.37 L1203.30,1418.87 L1206.10,1418.87 L1206.72,1418.37 L1208.90,1418.37 L1209.52,1418.87 L1212.33,1418.87 L1212.95,1418.37 L1215.13,1418.37 L1215.75,1418.87 L1218.55,1418.87 L1219.17,1418.37 L1221.35,1418.37 L1221.97,1418.87 L1224.78,1418.87 L1225.40,1418.37 L1227.58,1418.37 L1228.20,1418.87 L1231.00,1418.87 L1231.62,1418.37 L1233.80,1418.37 L1234.42,1418.87 L1237.23,1418.87 L1237.85,1418.37 L1240.03,1418.37 L1240.65,1418.87 L1243.45,1418.87 L1244.07,1418.37 L1246.25,1418.37 L1246.87,1418.87 L1249.67,1418.87 L1250.30,1418.37 L1252.48,1418.37 L1253.10,1418.87 L1255.90,1418.87 L1256.52,1418.37 L1258.70,1418.37 L1259.32,1418.87 L1262.12,1418.87 L1262.75,1418.37 L1264.93,1418.37 L1265.55,1418.87 L1268.35,1418.87 L1268.97,1418.37 L1269.60,1418.37 L1271.67,1577.59 L1273.12,1566.34 L1275.20,1551.39 L1276.34,1544.29 L1277.38,1538.31 L1279.45,1528.18 L1281.53,1518.63 L1283.60,1511.01 L1284.22,1509.47 L1285.57,1505.41 L1287.03,1501.55 L1287.65,1499.54 L1289.83,1494.89 L1290.45,1494.22 L1291.80,1491.91 L1293.25,1489.73 L1293.87,1488.38 L1296.05,1485.77 L1296.67,1485.61 L1299.48,1483.07 L1300.10,1482.08 L1302.28,1480.55 L1302.90,1480.66 L1305.70,1479.08 L1306.32,1478.26 L1307.78,1477.56 L1308.50,1477.22 L1309.12,1477.44 L1311.92,1476.25 L1312.55,1475.50 L1314.73,1474.63 L1315.35,1474.89 L1318.15,1473.81 L1318.77,1473.07 L1320.95,1472.24 L1321.57,1472.51 L1324.38,1471.44 L1325.00,1470.71 L1327.18,1469.89 L1327.80,1470.16 L1330.60,1469.13 L1331.22,1468.40 L1332.26,1468.03 L1333.40,1467.63 L1334.02,1467.91 L1336.83,1466.98 L1337.45,1466.28 L1339.63,1465.62 L1340.25,1465.94 L1343.05,1465.18 L1343.67,1464.53 L1345.85,1464.04 L1346.47,1464.41 L1349.28,1463.92 L1349.90,1463.32 L1352.08,1463.05 L1352.70,1463.49 L1355.50,1463.31 L1356.12,1462.79 L1357.58,1462.77 L1358.30,1462.77 L1358.92,1463.29 L1361.73,1463.44 L1362.35,1462.99 L1364.53,1463.24 L1365.15,1463.83 L1367.95,1464.31 L1368.57,1463.93 L1369.20,1464.06 L1370.75,1464.42 L1371.37,1465.08 L1374.17,1465.84 L1374.80,1465.53 L1376.98,1466.22 L1377.60,1466.93 L1380.40,1467.92 L1381.02,1467.65 L1381.23,1467.73 L1383.20,1468.48 L1383.82,1469.23 L1386.62,1470.35 L1387.25,1470.11 L1389.43,1471.01 L1390.05,1471.77 L1392.85,1472.93 L1393.47,1472.69 L1395.65,1473.57 L1396.27,1474.32 L1399.08,1475.42 L1399.70,1475.15 L1401.88,1475.95 L1402.50,1476.67 L1405.30,1477.59 L1405.92,1477.29 L1408.10,1477.92 L1408.72,1478.59 L1411.53,1479.27 L1412.15,1478.90 L1414.33,1479.31 L1414.95,1479.91 L1417.75,1480.28 L1418.37,1479.85 L1420.55,1480.00 L1421.17,1480.53 L1421.80,1480.55 L1423.98,1480.56 L1424.60,1480.04 L1426.78,1479.93 L1427.40,1480.38 L1428.95,1480.22 L1430.20,1480.06 L1430.82,1479.47 L1433.00,1479.10 L1433.62,1479.48 L1436.42,1478.84 L1437.05,1478.18 L1439.23,1477.58 L1439.85,1477.90 L1442.65,1477.00 L1443.27,1476.29 L1445.45,1475.52 L1446.07,1475.79 L1447.42,1475.28 L1448.88,1474.72 L1449.50,1473.97 L1451.68,1473.09 L1452.30,1473.34 L1455.10,1472.18 L1455.72,1471.42 L1456.24,1471.21 L1457.90,1470.52 L1458.52,1470.76 L1461.33,1469.62 L1461.95,1468.87 L1464.13,1468.03 L1464.75,1468.29 L1467.55,1467.27 L1468.17,1466.56 L1470.35,1465.84 L1470.97,1466.14 L1473.78,1465.34 L1474.40,1464.68 L1476.58,1464.15 L1477.20,1464.52 L1480.00,1464.00 L1480.62,1463.40 L1482.80,1463.12 L1483.42,1463.55 L1486.23,1463.36 L1486.85,1462.84 L1487.47,1462.83 L1489.03,1462.83 L1489.65,1463.34 L1492.45,1463.50 L1493.07,1463.05 L1494.32,1463.19 L1495.25,1463.31 L1495.87,1463.90 L1498.67,1464.38 L1499.30,1464.01 L1501.48,1464.51 L1502.10,1465.17 L1504.90,1465.95 L1505.52,1465.64 L1507.70,1466.34 L1508.32,1467.05 L1511.12,1468.05 L1511.75,1467.78 L1512.58,1468.09 L1513.93,1468.62 L1514.55,1469.36 L1517.35,1470.49 L1517.97,1470.25 L1520.15,1471.15 L1520.77,1471.91 L1523.58,1473.07 L1524.20,1472.83 L1526.38,1473.71 L1527.00,1474.46 L1529.80,1475.55 L1530.42,1475.28 L1532.60,1476.07 L1533.22,1476.78 L1535.40,1477.51 L1536.03,1477.70 L1536.65,1477.39 L1538.83,1478.01 L1539.45,1478.68 L1542.25,1479.34 L1542.87,1478.97 L1545.05,1479.37 L1545.67,1479.97 L1548.47,1480.32 L1549.10,1479.88 L1551.28,1480.02 L1551.90,1480.54 L1554.70,1480.55 L1555.32,1480.03 L1557.50,1479.90 L1558.12,1480.35 L1559.37,1480.22 L1560.92,1480.01 L1561.55,1479.42 L1563.73,1479.03 L1564.35,1479.40 L1567.15,1478.75 L1567.77,1478.09 L1569.95,1477.48 L1570.57,1477.79 L1573.38,1476.89 L1574.00,1476.17 L1576.18,1475.39 L1576.80,1475.66 L1577.94,1475.23 L1579.60,1474.58 L1580.22,1473.83 L1582.40,1472.95 L1583.02,1473.19 L1585.83,1472.03 L1586.45,1471.28 L1586.76,1471.15 L1588.63,1470.37 L1589.25,1470.62 L1592.05,1469.48 L1592.67,1468.74 L1594.85,1467.89 L1595.47,1468.16 L1598.28,1467.15 L1598.90,1466.44 L1600.77,1465.83 L1601.08,1465.73 L1601.70,1466.04 L1604.50,1465.25 L1605.12,1464.59 L1607.30,1464.08 L1607.92,1464.45 L1610.72,1463.94 L1611.35,1463.35 L1613.53,1463.08 L1614.15,1463.52 L1616.95,1463.35 L1617.57,1462.83 L1619.75,1462.83 L1620.37,1463.35 L1623.17,1463.53 L1623.80,1463.09 L1625.98,1463.36 L1626.60,1463.95 L1629.40,1464.46 L1630.02,1464.09 L1632.20,1464.60 L1632.82,1465.26 L1635.62,1466.05 L1636.25,1465.74 L1638.43,1466.45 L1639.05,1467.17 L1641.85,1468.18 L1642.47,1467.91 L1644.65,1468.76 L1645.27,1469.50 L1648.08,1470.64 L1648.70,1470.39 L1650.88,1471.30 L1651.50,1472.06 L1654.30,1473.21 L1654.92,1472.97 L1657.10,1473.85 L1657.72,1474.60 L1659.18,1475.17 L1660.53,1475.68 L1661.15,1475.41 L1663.33,1476.19 L1663.95,1476.90 L1666.75,1477.81 L1667.37,1477.49 L1669.55,1478.11 L1670.17,1478.77 L1671.83,1479.17 L1672.97,1479.41 L1673.60,1479.04 L1675.78,1479.43 L1676.40,1480.02 L1679.20,1480.35 L1679.82,1479.91 L1682.00,1480.03 L1682.62,1480.55 L1685.42,1480.54 L1686.05,1480.02 L1688.23,1479.87 L1688.85,1480.31 L1691.65,1479.96 L1692.27,1479.36 L1694.45,1478.96 L1695.07,1479.33 L1697.46,1478.77 L1697.88,1478.66 L1698.50,1478.00 L1700.68,1477.38 L1701.30,1477.69 L1704.10,1476.77 L1704.72,1476.05 L1706.90,1475.26 L1707.52,1475.53 L1708.25,1475.25 L1710.33,1474.44 L1710.95,1473.69 L1713.13,1472.81 L1713.75,1473.05 L1716.55,1471.89 L1717.17,1471.13 L1719.35,1470.23 L1719.97,1470.47 L1722.78,1469.34 L1723.40,1468.60 L1725.58,1467.76 L1726.20,1468.03 L1729.00,1467.03 L1729.62,1466.32 L1731.28,1465.78 L1731.80,1465.62 L1732.42,1465.93 L1735.22,1465.16 L1735.85,1464.50 L1738.03,1464.00 L1738.65,1464.37 L1741.45,1463.89 L1742.07,1463.30 L1744.25,1463.05 L1744.87,1463.49 L1747.67,1463.34 L1748.30,1462.83 L1750.48,1462.84 L1751.10,1463.36 L1753.90,1463.56 L1754.52,1463.12 L1756.70,1463.41 L1757.32,1464.00 L1760.12,1464.53 L1760.75,1464.16 L1762.93,1464.69 L1763.55,1465.35 L1766.35,1466.16 L1766.97,1465.85 L1769.15,1466.57 L1769.77,1467.29 L1772.58,1468.31 L1773.20,1468.04 L1775.38,1468.89 L1776.00,1469.64 L1778.80,1470.78 L1779.42,1470.54 L1781.60,1471.44 L1782.22,1472.20 L1785.03,1473.36 L1785.65,1473.11 L1787.83,1473.99 L1788.45,1474.74 L1789.17,1475.02 L1791.25,1079.30 L1792.91,1113.48 L1794.67,1146.99 L1796.02,1169.68 L1797.47,1191.78 L1799.45,1217.66 L1801.52,1241.84 L1803.70,1262.67 L1805.67,1277.88 L1807.43,1290.22 L1808.58,1296.89 L1809.72,1302.85 L1813.35,1317.77 L1814.59,1321.69 L1816.15,1325.86 L1816.77,1326.83 L1817.81,1329.04 L1818.95,1331.17 L1819.57,1332.70 L1819.99,1333.35 L1821.13,1334.95 L1822.38,1336.43 L1823.00,1336.58 L1824.35,1337.79 L1824.45,1338.32 L1825.18,1338.87 L1825.80,1339.79 L1827.15,1340.55 L1828.60,1341.19 L1829.22,1340.91 L1831.40,1341.49 L1832.02,1342.10 L1834.83,1342.39 L1835.45,1341.91 L1837.63,1341.92 L1838.25,1342.40 L1841.05,1342.24 L1841.67,1341.69 L1843.85,1341.49 L1844.47,1341.93 L1847.28,1341.64 L1847.90,1341.08 L1850.08,1340.85 L1850.70,1341.29 L1853.50,1341.02 L1854.12,1340.46 L1854.74,1340.41 L1856.30,1340.28 L1856.92,1340.73 L1859.72,1340.52 L1860.35,1339.98 L1862.53,1339.84 L1863.15,1340.31 L1865.95,1340.17 L1866.57,1339.64 L1868.75,1339.56 L1869.37,1340.03 L1872.17,1339.95 L1872.80,1339.43 L1874.98,1339.38 L1875.60,1339.87 L1878.40,1339.82 L1879.02,1339.31 L1881.20,1339.28 L1881.82,1339.77 L1884.62,1339.75 L1885.25,1339.24 L1885.97,1339.24 L1887.43,1339.23 L1888.05,1339.72 L1890.85,1339.71 L1891.47,1339.21 L1892.20,1339.21 L1893.65,1339.20 L1894.27,1339.70 L1897.08,1339.70 L1897.70,1339.20 L1899.88,1339.19 L1900.50,1339.69 L1903.30,1339.69 L1903.92,1339.19 L1904.44,1339.19 L1906.10,1339.19 L1906.72,1339.69 L1909.53,1339.69 L1910.15,1339.19 L1912.33,1339.19 L1912.95,1339.69 L1915.75,1339.69 L1916.37,1339.19 L1918.55,1339.19 L1919.17,1339.70 L1921.97,1339.70 L1922.60,1339.20 L1924.78,1339.20 L1925.40,1339.70 L1928.20,1339.70 L1928.82,1339.20 L1931.00,1339.20 L1931.62,1339.70 L1934.42,1339.70 L1935.05,1339.20 L1937.23,1339.20 L1937.85,1339.70 L1940.65,1339.70 L1941.27,1339.20 L1943.45,1339.20 L1944.07,1339.70 L1946.88,1339.70 L1947.50,1339.20 L1949.68,1339.20 L1950.30,1339.70 L1953.10,1339.70 L1953.72,1339.20 L1955.90,1339.20 L1956.52,1339.70 L1959.33,1339.70 L1959.95,1339.20 L1962.13,1339.20 L1962.75,1339.70 L1965.55,1339.70 L1966.17,1339.20 L1968.35,1339.20 L1968.97,1339.70 L1971.78,1339.70 L1972.40,1339.20 L1974.58,1339.20 L1975.20,1339.70 L1978.00,1339.70 L1978.62,1339.20 L1980.80,1339.20 L1981.42,1339.70 L1984.22,1339.70 L1984.85,1339.20 L1987.03,1339.20 L1987.65,1339.70 L1990.45,1339.70 L1991.07,1339.20 L1993.25,1339.20 L1993.87,1339.70 L1996.67,1339.70 L1997.30,1339.20 L1999.48,1339.20 L2000.10,1339.70 L2002.90,1339.70 L2003.52,1339.20 L2005.70,1339.20 L2006.32,1339.70 L2009.12,1339.70 L2009.75,1339.20 L2011.93,1339.20 L2012.55,1339.70 L2015.35,1339.70 L2015.97,1339.20 L2018.15,1339.20 L2018.77,1339.70 L2021.58,1339.70 L2022.20,1339.20 L2024.38,1339.20 L2025.00,1339.70 L2027.80,1339.70 L2028.42,1339.20 L2030.60,1339.20 L2031.22,1339.70 L2034.03,1339.70 L2034.65,1339.20 L2036.83,1339.20 L2037.45,1339.70 L2040.25,1339.70 L2040.87,1339.20 L2043.05,1339.20 L2043.67,1339.70 L2046.47,1339.70 L2047.10,1339.20 L2049.28,1339.20 L2049.90,1339.70 L2052.70,1339.70 L2053.32,1339.20 L2055.50,1339.20 L2056.12,1339.70 L2058.93,1339.70 L2059.55,1339.20 L2061.73,1339.20 L2062.35,1339.70 L2065.15,1339.70 L2065.77,1339.20 L2067.95,1339.20 L2068.57,1339.70 L2071.38,1339.70 L2072.00,1339.20 L2074.18,1339.20 L2074.80,1339.70 L2077.60,1339.70 L2078.22,1339.20 L2080.40,1339.20 L2081.02,1339.70 L2083.83,1339.70 L2084.45,1339.20 L2086.63,1339.20 L2087.25,1339.70 L2090.05,1339.70 L2090.67,1339.20 L2092.85,1339.20 L2093.47,1339.70 L2096.28,1339.70 L2096.90,1339.20 L2099.08,1339.20 L2099.70,1339.70 L2102.50,1339.70 L2103.12,1339.20 L2105.30,1339.20 L2105.92,1339.70 L2108.72,1339.70 L2109.35,1339.20 L2111.53,1339.20 L2112.15,1339.70 L2114.95,1339.70 L2115.57,1339.20 L2117.75,1339.20 L2118.37,1339.70 L2121.18,1339.70 L2121.80,1339.20 L2123.98,1339.20 L2124.60,1339.70 L2127.40,1339.70 L2128.02,1339.20 L2130.20,1339.20 L2130.82,1339.70 L2133.62,1339.70 L2134.25,1339.20 L2136.43,1339.20 L2137.05,1339.70 L2139.85,1339.70 L2140.47,1339.20 L2142.65,1339.20 L2143.27,1339.70 L2146.08,1339.70 L2146.70,1339.20 L2148.88,1339.20 L2149.50,1339.70 L2152.30,1339.70 L2152.92,1339.20 L2155.10,1339.20 L2155.72,1339.70 L2158.53,1339.70 L2159.15,1339.20 L2161.33,1339.20 L2161.95,1339.70 L2164.75,1339.70 L2165.37,1339.20 L2167.55,1339.20 L2168.17,1339.70 L2170.97,1339.70 L2171.60,1339.20 L2173.78,1339.20 L2174.40,1339.70 L2177.20,1339.70 L2177.82,1339.20 L2180.00,1339.20 L2180.62,1339.70 L2183.43,1339.70 L2184.05,1339.20 L2186.23,1339.20 L2186.85,1339.70 L2189.65,1339.70 L2190.27,1339.20 L2192.45,1339.20 L2193.07,1339.70 L2195.88,1339.70 L2196.50,1339.20 L2198.68,1339.20 L2199.30,1339.70 L2202.10,1339.70 L2202.72,1339.20 L2204.90,1339.20 L2205.52,1339.70 L2208.33,1339.70 L2208.95,1339.20 L2211.13,1339.20 L2211.75,1339.70 L2214.55,1339.70 L2215.17,1339.20 L2217.35,1339.20 L2217.97,1339.70 L2220.78,1339.70 L2221.40,1339.20 L2223.58,1339.20 L2224.20,1339.70 L2227.00,1339.70 L2227.62,1339.20 L2229.80,1339.20 L2230.42,1339.70 L2233.22,1339.70 L2233.85,1339.20 L2236.03,1339.20 L2236.65,1339.70 L2239.45,1339.70 L2240.07,1339.20 L2242.25,1339.20 L2242.87,1339.70 L2245.68,1339.70 L2246.30,1339.20 L2248.48,1339.20 L2249.10,1339.70 L2251.90,1339.70 L2252.52,1339.20 L2254.70,1339.20 L2255.32,1339.70 L2258.12,1339.70 L2258.75,1339.20 L2260.93,1339.20 L2261.55,1339.70 L2264.35,1339.70 L2264.97,1339.20 L2267.15,1339.20 L2267.77,1339.70 L2270.58,1339.70 L2271.20,1339.20 L2273.38,1339.20 L2274.00,1339.70 L2276.80,1339.70 L2277.42,1339.20 L2279.60,1339.20 L2280.22,1339.70 L2283.03,1339.70 L2283.65,1339.20 L2285.83,1339.20 L2286.45,1339.70 L2289.25,1339.70 L2289.87,1339.20 L2292.05,1339.20 L2292.67,1339.70 L2295.47,1339.70 L2296.10,1339.20 L2298.28,1339.20 L2298.90,1339.70 L2301.70,1339.70 L2302.32,1339.20 L2304.50,1339.20 L2305.12,1339.70 L2307.93,1339.70 L2308.55,1339.20 L2311.00,1339.20"/>
</g>
<rect x="287" y="1041" width="522" height="86" fill="#fff" stroke="#262626" stroke-width="4" shape-rendering="crispEdges"/>
<rect x="806" y="1041" width="2" height="86" fill="#262626" shape-rendering="crispEdges"/>
<rect x="306" y="1082" width="192" height="4" fill="#00f" shape-rendering="crispEdges"/>
<text class="lg" transform="translate(512.6,1102.7) scale(1,1.03)">PI Observer</text>
</g>
</svg>
</body>
</html>
